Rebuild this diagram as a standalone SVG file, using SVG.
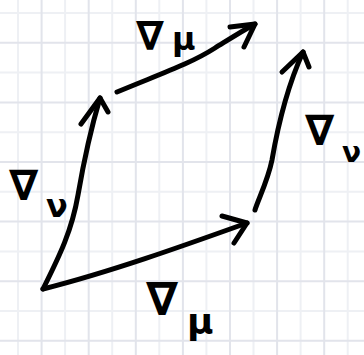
<svg xmlns="http://www.w3.org/2000/svg" width="364" height="355" viewBox="0 0 364 355">
<style>
.minor{stroke:#eef0f4;stroke-width:2;fill:none}
.major{stroke:#e2e4eb;stroke-width:2;fill:none}
.vec{stroke:#000;stroke-width:5;fill:none;stroke-linecap:round;stroke-linejoin:round}
.lbl{font-family:"DejaVu Sans",sans-serif;fill:#000;font-weight:bold}
</style>
<rect width="364" height="355" fill="#fff"/>
<g id="grid">
<path class="minor" d="M18,0V355M65.1,0V355M112.2,0V355M159.3,0V355M206.4,0V355M253.5,0V355M300.6,0V355M347.7,0V355M0,13H364M0,72.6H364M0,132.2H364M0,191.8H364M0,251.4H364M0,311H364"/>
<path class="major" d="M41.6,0V355M88.7,0V355M135.8,0V355M182.9,0V355M230,0V355M277.1,0V355M324.2,0V355M0,42.8H364M0,102.4H364M0,162H364M0,221.6H364M0,281.2H364M0,340.8H364"/>
</g>
<g id="connectors">
<g id="mu-bottom-arrow">
<path class="vec" d="M43,289 C110,272 180,247 247,223"/>
<path class="vec" d="M222,216 L247,223 L234,243"/>
</g>
<g id="nu-left-arrow">
<path class="vec" d="M43,289 C60,255 72,230 78,195 C84,160 92,125 100,98"/>
<path class="vec" d="M81,124 L100,98 L108,112"/>
</g>
<g id="mu-top-arrow">
<path class="vec" d="M117,92 C160,74 190,64 215,48 C228,40 242,31 255,24"/>
<path class="vec" d="M230,27 L255,24 L244,47"/>
</g>
<g id="nu-right-arrow">
<path class="vec" d="M255,210 C258,200 268,180 272,160 C278,125 288,85 303,52"/>
<path class="vec" d="M282,72 L303,52 L309,67"/>
</g>
</g>
<g id="label-mu-top"><text class="lbl"><tspan x="136" y="50" font-size="40">∇</tspan><tspan x="172" y="50" font-size="32">μ</tspan></text></g>
<g id="label-nu-left"><text class="lbl"><tspan x="9" y="200" font-size="42">∇</tspan><tspan x="46" y="217" font-size="32">ν</tspan></text></g>
<g id="label-nu-right"><text class="lbl"><tspan x="305" y="145" font-size="42">∇</tspan><tspan x="342" y="162" font-size="28">ν</tspan></text></g>
<g id="label-mu-bottom"><text class="lbl"><tspan x="146" y="315" font-size="46">∇</tspan><tspan x="187" y="334" font-size="36">μ</tspan></text></g>
</svg>
